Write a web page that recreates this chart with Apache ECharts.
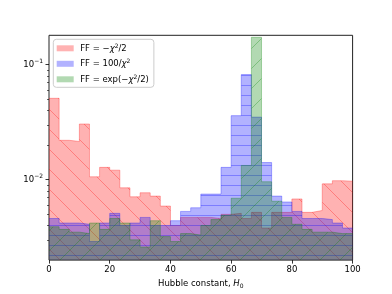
<!DOCTYPE html>
<html>
<head>
<meta charset="utf-8">
<script src="https://cdn.jsdelivr.net/npm/echarts@6/dist/echarts.min.js"></script>
<style>
html,body{margin:0;padding:0;background:#fff;}
#chart{width:392px;height:294px;}
</style>
</head>
<body>
<div id="chart"></div>
<script>
// ---- data ----
const binCount = 30;
const xMin = 0, xMax = 100;
const binEdges = Array.from({length: binCount + 1}, (_, i) => xMin + i * (xMax - xMin) / binCount);

const seriesNames = ['FF = −χ²/2', 'FF = 100/χ²', 'FF = exp(−χ²/2)'];

const redValues = [0.051, 0.022, 0.0215, 0.0305, 0.0106, 0.0128, 0.0121, 0.0085, 0.0071, 0.0077,
                   0.0072, 0.0059, 0.0040, 0.0047, 0.0047, 0.0047, 0.0046, 0.0050, 0.0051, 0.0046,
                   0.0052, 0.0038, 0.0052, 0.0052, 0.0068, 0.0052, 0.0054, 0.0092, 0.0098, 0.0097];
const blueValues = [0.0046, 0.0042, 0.0042, 0.0041, 0.0029, 0.0042, 0.0051, 0.0040, 0.0042, 0.0047,
                    0.0040, 0.0040, 0.0044, 0.0053, 0.0057, 0.0075, 0.0075, 0.0128, 0.036, 0.082,
                    0.035, 0.0141, 0.0072, 0.0064, 0.0053, 0.0046, 0.0046, 0.0045, 0.0042, 0.0038];
const greenValues = [0.0039, 0.0037, 0.0035, 0.0034, 0.0042, 0.0037, 0.0046, 0.0042, 0.0030, 0.0026,
                     0.0044, 0.0032, 0.0029, 0.0034, 0.0033, 0.0040, 0.0045, 0.0049, 0.0069, 0.0133,
                     0.173, 0.0096, 0.0065, 0.0047, 0.0041, 0.0037, 0.0035, 0.0035, 0.0034, 0.0034];

const xTickInterval = 20;
const yMin = 0.002, yMax = 0.18;
const majorTickExponents = [-2, -1];
const minorTickValues = [0.003, 0.004, 0.005, 0.006, 0.007, 0.008, 0.009,
                         0.02, 0.03, 0.04, 0.05, 0.06, 0.07, 0.08, 0.09];

// ---- styling helpers ----
function hatch(rgb, kind, size) {
  const c = document.createElement('canvas');
  c.width = size; c.height = size;
  const ctx = c.getContext('2d');
  ctx.fillStyle = 'rgba(' + rgb + ',0.3)';
  ctx.fillRect(0, 0, size, size);
  ctx.strokeStyle = 'rgba(' + rgb + ',0.3)';
  ctx.lineWidth = 1;
  ctx.beginPath();
  if (kind === 'back') {
    for (let k = -1; k <= 1; k++) { ctx.moveTo(0, k * size); ctx.lineTo(size, k * size + size); }
  } else if (kind === 'fwd') {
    for (let k = -1; k <= 1; k++) { ctx.moveTo(0, size + k * size); ctx.lineTo(size, k * size); }
  } else {
    ctx.moveTo(0, size / 2 + 0.5); ctx.lineTo(size, size / 2 + 0.5);
  }
  ctx.stroke();
  return {image: c, repeat: 'repeat'};
}

const styles = [
  {rgb: '255,0,0', kind: 'back', size: 20},
  {rgb: '0,0,255', kind: 'horiz', size: 10},
  {rgb: '0,128,0', kind: 'fwd', size: 20}
];
const allValues = [redValues, blueValues, greenValues];

function stepData(values) {
  const d = values.map((v, i) => [binEdges[i], v]);
  d.push([binEdges[binCount], values[values.length - 1]]);
  return d;
}

const legendRich = {
  'FF = −χ²/2': 'FF = −{i|χ}{s|2}/2',
  'FF = 100/χ²': 'FF = 100/{i|χ}{s|2}',
  'FF = exp(−χ²/2)': 'FF = exp(−{i|χ}{s|2}/2)'
};

const FONT = 'DejaVu Sans';
const chart = echarts.init(document.getElementById('chart'), null, {renderer: 'canvas'});

const series = allValues.map((vals, k) => ({
  type: 'line',
  name: seriesNames[k],
  data: stepData(vals),
  step: 'end',
  symbol: 'none',
  yAxisIndex: 0,
  xAxisIndex: 0,
  silent: true,
  lineStyle: {color: 'rgba(' + styles[k].rgb + ',0.3)', width: 1},
  itemStyle: {color: 'rgba(' + styles[k].rgb + ',0.3)'},
  areaStyle: {color: hatch(styles[k].rgb, styles[k].kind, styles[k].size), opacity: 1, origin: 'start'},
  emphasis: {disabled: true},
  z: 2 + k
}));

chart.setOption({
  animation: false,
  textStyle: {fontFamily: FONT},
  grid: {left: 49, right: 39.4, top: 35.3, bottom: 32.3, show: true, borderColor: '#222', borderWidth: 1, backgroundColor: 'transparent'},
  legend: {
    left: 53.3, top: 39.3,
    orient: 'vertical',
    padding: [4, 5, 3, 3.4],
    itemWidth: 17, itemHeight: 6, itemGap: 5.5,
    backgroundColor: 'rgba(255,255,255,0.8)',
    borderColor: '#cccccc', borderWidth: 1, borderRadius: 3,
    selectedMode: false,
    data: seriesNames.map((n, k) => ({name: n, icon: 'rect', itemStyle: {color: 'rgba(' + styles[k].rgb + ',0.3)', borderWidth: 0}})),
    formatter: name => legendRich[name],
    textStyle: {
      fontFamily: FONT, fontSize: 8.5, color: '#000', lineHeight: 10, padding: [0, 0, 0, 1.5],
      rich: {
        i: {fontFamily: FONT, fontStyle: 'italic', fontSize: 8.5, lineHeight: 10, color: '#000'},
        s: {fontFamily: FONT, fontSize: 6, lineHeight: 6, verticalAlign: 'top', color: '#000'}
      }
    }
  },
  xAxis: [{
    type: 'value', min: xMin, max: xMax, interval: xTickInterval,
    axisLine: {show: false},
    splitLine: {show: false},
    axisTick: {show: true, inside: false, length: 3.5, lineStyle: {color: '#000', width: 0.8}},
    axisLabel: {fontFamily: FONT, fontSize: 8.5, color: '#000', margin: 5},
    name: '{n|Hubble constant, }{i|H}{sub|0}',
    nameLocation: 'middle', nameGap: 14,
    nameTextStyle: {
      fontFamily: FONT, fontSize: 8.5, color: '#000',
      rich: {
        n: {fontFamily: FONT, fontSize: 8.5, lineHeight: 11, color: '#000'},
        i: {fontFamily: FONT, fontStyle: 'italic', fontSize: 8.5, lineHeight: 11, color: '#000'},
        sub: {fontFamily: FONT, fontSize: 6, lineHeight: 6, verticalAlign: 'bottom', color: '#000'}
      }
    }
  }],
  yAxis: [
    {
      type: 'log', logBase: 10, min: yMin, max: yMax, position: 'left',
      axisLine: {show: false}, splitLine: {show: false}, minorSplitLine: {show: false},
      axisTick: {show: false}, axisLabel: {show: false}
    },
    {
      type: 'value', min: Math.log10(yMin), max: Math.log10(yMax), position: 'left',
      axisLine: {show: false}, splitLine: {show: false},
      axisTick: {show: true, length: 3.5, customValues: majorTickExponents, lineStyle: {color: '#000', width: 0.8}},
      axisLabel: {
        customValues: majorTickExponents, margin: 6,
        formatter: v => '{b|10}{s|' + (v < 0 ? '−' : '') + Math.abs(Math.round(v)) + '}',
        rich: {
          b: {fontFamily: FONT, fontSize: 8.5, lineHeight: 12, color: '#000'},
          s: {fontFamily: FONT, fontSize: 6, lineHeight: 6, verticalAlign: 'top', color: '#000'}
        }
      }
    },
    {
      type: 'value', min: Math.log10(yMin), max: Math.log10(yMax), position: 'left',
      axisLine: {show: false}, splitLine: {show: false},
      axisTick: {show: true, length: 2, customValues: minorTickValues.map(v => Math.log10(v)), lineStyle: {color: '#000', width: 0.6}},
      axisLabel: {show: false}
    }
  ],
  series: series
});
</script>
</body>
</html>
